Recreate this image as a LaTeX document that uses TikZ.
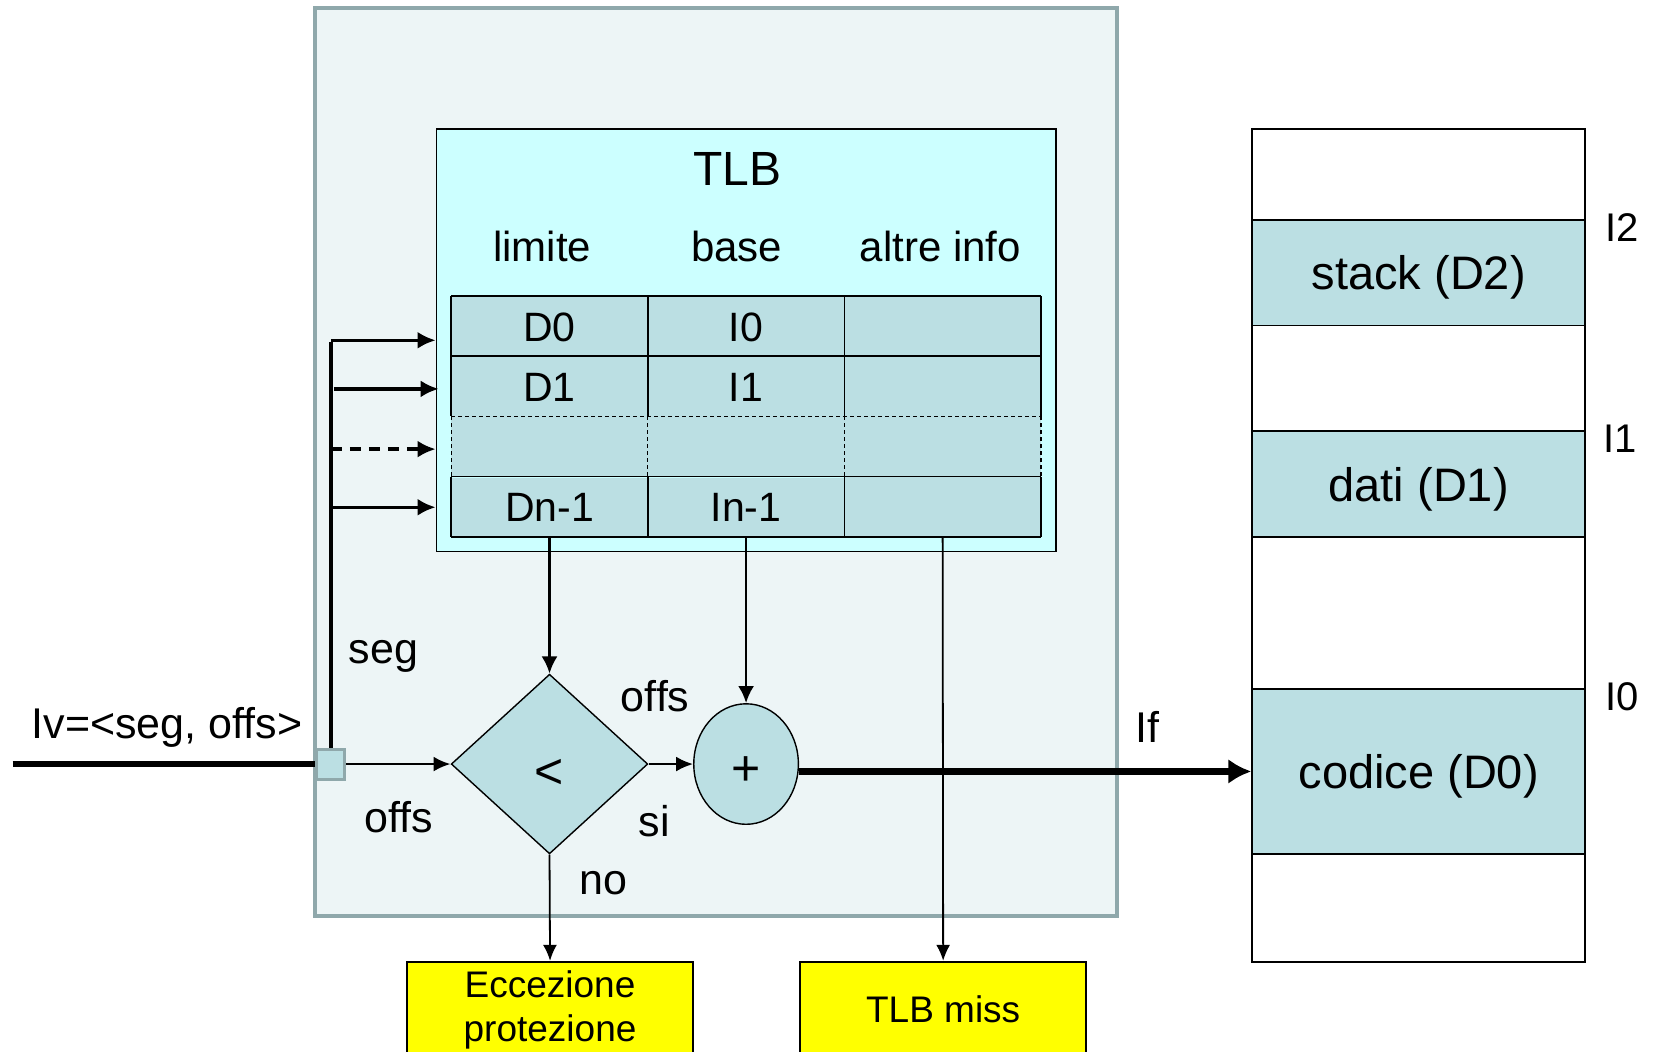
\documentclass[tikz,border=0pt]{standalone}
\usepackage{fontspec}
\setmainfont{Liberation Sans}
\usetikzlibrary{arrows.meta,shapes.geometric}
\definecolor{outerfill}{HTML}{EDF5F6}
\definecolor{outerdraw}{HTML}{8FA8AB}
\definecolor{tlbfill}{HTML}{CCFFFF}
\definecolor{cellfill}{HTML}{BBDFE3}
\definecolor{yellowbox}{HTML}{FFFF00}
\tikzset{
  outerbox/.style={draw=outerdraw, line width=4pt, fill=outerfill, minimum width=802pt, minimum height=908pt, inner sep=0pt},
  tlbbox/.style={draw, line width=1.6pt, fill=tlbfill, minimum width=619.3pt, minimum height=422.7pt, inner sep=0pt},
  cellnode/.style={fill=cellfill, minimum width=196.6pt, minimum height=60.2pt, inner sep=0pt, font=\fontsize{41}{48}\selectfont},
  gridline/.style={line width=1.7pt},
  griddash/.style={line width=1.3pt, dash pattern=on 4pt off 3pt},
  hdr/.style={font=\fontsize{42}{48}\selectfont, inner sep=0pt},
  lbl/.style={font=\fontsize{43}{48}\selectfont, inner sep=0pt},
  memseg/.style={draw, line width=1.8pt, fill=cellfill, minimum width=332.9pt, inner sep=0pt, text depth=0pt, font=\fontsize{47}{54}\selectfont},
  ybox/.style={draw, line width=1.8pt, fill=yellowbox, minimum width=286.4pt, minimum height=96pt, inner sep=0pt, align=center, font=\fontsize{37}{44}\selectfont},
  opnode/.style={draw, line width=1.4pt, fill=cellfill, inner sep=0pt, text depth=0pt, font=\fontsize{50}{56}\selectfont},
  thinarrow/.style={line width=1.8pt, -{Latex[length=16pt,width=14pt]}},
  feedarrow/.style={line width=2.7pt, -{Latex[length=17pt,width=16pt]}},
  midarrow/.style={line width=2.4pt, -{Latex[length=17pt,width=15pt]}},
  segarrow/.style={line width=3.5pt, -{Latex[length=18pt,width=17pt]}},
  thickarrow/.style={line width=7.5pt, -{Latex[length=23pt,width=25pt]}},
}
\begin{document}
\begin{tikzpicture}[x=1.0568pt, y=-1.0568pt]
\useasboundingbox (0,0) rectangle (1568,995);
\clip (0,0) rectangle (1568,995);
\fill[white] (0,0) rectangle (1568,995);

% outer MMU box
\node[outerbox] (outer) at (677.5,437.5) {};

% TLB
\node[tlbbox] (tlb) at (706,322) {};
\node[font=\fontsize{48}{54}\selectfont, inner sep=0pt] (tlbt) at (698,160) {TLB};
\node[hdr] (h1) at (513,233) {limite};
\node[hdr] (h2) at (697,233) {base};
\node[hdr] (h3) at (890,233) {altre info};

% table cells
\node[cellnode] (c11) at (520,309.5) {D0};
\node[cellnode] (c12) at (706,309.5) {I0};
\node[cellnode] (c13) at (892,308.5) {};
\node[cellnode] (c21) at (520,366.5) {D1};
\node[cellnode] (c22) at (706,366.5) {I1};
\node[cellnode] (c23) at (892,365.5) {};
\node[cellnode] (c31) at (520,422.5) {};
\node[cellnode] (c32) at (706,422.5) {};
\node[cellnode] (c33) at (892,422.5) {};
\node[cellnode] (c41) at (520,480.5) {Dn-1};
\node[cellnode] (c42) at (706,480.5) {In-1};
\node[cellnode] (c43) at (892,479.5) {};

% grid lines
\draw[gridline] (427,280) -- (985,280);
\draw[gridline] (427,337) -- (985,337);
\draw[griddash] (427,394) -- (985,394);
\draw[gridline] (427,451) -- (985,451);
\draw[gridline] (427,508) -- (985,508);
\foreach \x in {427,613,799,985} {
  \draw[gridline] (\x,280) -- (\x,394);
  \draw[griddash] (\x,394) -- (\x,451);
  \draw[gridline] (\x,451) -- (\x,508);
}

% input and selector square
\coordinate (in) at (12,723);
\node[draw=outerdraw, line width=3pt, fill=cellfill, minimum width=28pt, minimum height=30pt, inner sep=0pt] (sq) at (313,723) {};
\draw[line width=6.5pt] (in) -- (sq.west);
\node[draw=outerdraw, line width=3pt, fill=cellfill, minimum width=28pt, minimum height=30pt, inner sep=0pt] at (313,723) {};
\node[lbl] (lv) at (158,688) {Iv=<seg, offs>};

% seg arrows
\coordinate (s1) at (313,322);
\coordinate (s2) at (316,368);
\coordinate (s3) at (313,425);
\coordinate (s4) at (313,480);
\draw[line width=3.5pt] (sq.north) -- ([yshift=-1.7pt]s1);
\draw[segarrow] (s1) -- (tlb.west |- s1);
\draw[segarrow] (s2) -- ([xshift=3pt]tlb.west |- s2);
\draw[segarrow, dash pattern=on 11pt off 8pt] (s3) -- (tlb.west |- s3);
\draw[segarrow] (s4) -- (tlb.west |- s4);
\node[lbl] (seg) at (363,621) {seg};
\node[lbl] (offs1) at (377,773) {offs};

% comparator and adder
\node[diamond, opnode, text height=48pt, minimum width=196.6pt, minimum height=179.7pt] (cmp) at (520,723) {<};
\node[ellipse, opnode, text height=43pt, minimum width=104.6pt, minimum height=120.5pt] (plus) at (706,723) {+};
\draw[midarrow] (sq.east) -- (cmp.west);
\draw[midarrow] (cmp.east) -- (plus.west);
\draw[feedarrow] (c41.south) -- (cmp.north);
\draw[feedarrow] (c42.south) -- (plus.north);
\node[lbl] (offs2) at (620,659) {offs};
\node[lbl] (si) at (619,777) {si};
\node[lbl] (no) at (571,836) {no};

% memory
\node[draw, line width=1.8pt, fill=white, minimum width=332.9pt, minimum height=832.8pt, inner sep=0pt] (mem) at (1342.5,516) {};
\node[memseg, minimum height=105.7pt] (stack) at (1342.5,258) {stack (D2)};
\node[memseg, minimum height=105.7pt] (dati) at (1342.5,458) {dati (D1)};
\node[memseg, minimum height=164.9pt] (codice) at (1342.5,730) {codice (D0)};
\node[hdr, font=\fontsize{40}{46}\selectfont] (l2) at (1535,215) {I2};
\node[hdr, font=\fontsize{40}{46}\selectfont] (l1) at (1533,415) {I1};
\node[hdr, font=\fontsize{40}{46}\selectfont] (l0) at (1535,659) {I0};

% physical address
\draw[thickarrow] (plus.east |- codice.west) -- (codice.west);
\node[lbl] (lf) at (1086,688) {If};

% exits
\node[ybox] (ecc) at (520.5,955.5) {Eccezione\\protezione};
\node[ybox] (miss) at (892.5,955.5) {TLB miss};
\draw[thinarrow] (cmp.south) -- (ecc.north);
\draw[thinarrow] (c43.south) -- (miss.north);
\end{tikzpicture}
\end{document}
